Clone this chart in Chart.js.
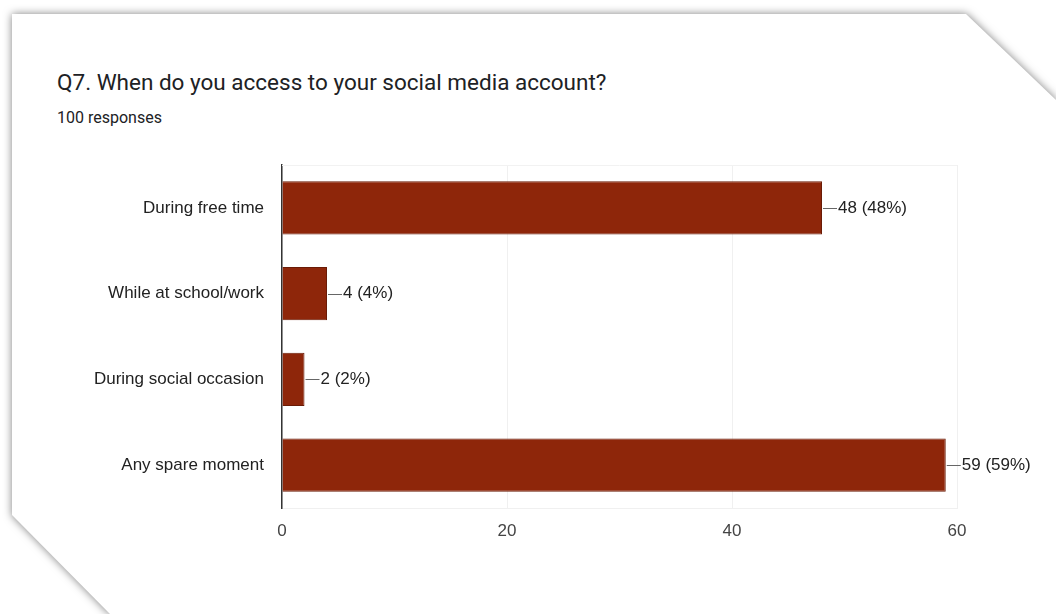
<!DOCTYPE html>
<html>
<head>
<meta charset="utf-8">
<script src="https://cdn.jsdelivr.net/npm/chart.js@4/dist/chart.umd.min.js"></script>
<style>
  html, body { margin:0; padding:0; background:#fff; width:1056px; height:614px; overflow:hidden; }
  #wrap { position:absolute; left:0; top:0; width:1056px; height:614px; filter: drop-shadow(0 0 4px rgba(0,0,0,0.5)); }
  #card { position:absolute; left:0; top:0; width:1056px; height:614px; background:#fff;
          clip-path: polygon(12px 14px, 966px 14px, 1056px 100px, 1056px 614px, 110px 614px, 12px 515px); }
  #title { position:absolute; left:57px; top:71px; line-height:1; font-family: Roboto, "Liberation Sans", sans-serif; font-size:22.5px; color:#202124; white-space:nowrap; }
  #sub { position:absolute; left:57px; top:110px; line-height:1; font-family: Roboto, "Liberation Sans", sans-serif; font-size:16px; color:#202124; white-space:nowrap; }
  #c { position:absolute; left:0; top:0; }
</style>
</head>
<body>
<div id="wrap"><div id="card"></div></div>
<div id="title">Q7. When do you access to your social media account?</div>
<div id="sub">100 responses</div>
<canvas id="c" width="1056" height="614"></canvas>
<script>
const categories = ["During free time", "While at school/work", "During social occasion", "Any spare moment"];
const counts = [48, 4, 2, 59];
const totalResponses = 100;
const xTicks = [0, 20, 40, 60];

const FONT = '"Liberation Sans", Arial, sans-serif';

const valueLabels = {
  id: 'valueLabels',
  afterDatasetsDraw(chart) {
    const ctx = chart.ctx;
    const meta = chart.getDatasetMeta(0);
    ctx.save();
    meta.data.forEach((el, i) => {
      const x = el.x, y = el.y;
      ctx.strokeStyle = '#666';
      ctx.lineWidth = 1;
      ctx.beginPath();
      ctx.moveTo(x + 1, Math.round(y) + 0.5);
      ctx.lineTo(x + 15, Math.round(y) + 0.5);
      ctx.stroke();
      ctx.fillStyle = '#222';
      ctx.font = '17px ' + FONT;
      ctx.textAlign = 'left';
      ctx.textBaseline = 'middle';
      const pct = Math.round(counts[i] / totalResponses * 100);
      ctx.fillText(counts[i] + ' (' + pct + '%)', x + 16, y);
    });
    ctx.restore();
  }
};

const topLine = {
  id: 'topLine',
  beforeDatasetsDraw(chart) {
    const { ctx, chartArea } = chart;
    ctx.save();
    ctx.strokeStyle = '#f2f2f2';
    ctx.lineWidth = 1;
    ctx.beginPath();
    ctx.moveTo(chartArea.left, chartArea.top + 0.5);
    ctx.lineTo(chartArea.right, chartArea.top + 0.5);
    ctx.stroke();
    ctx.restore();
  }
};

new Chart(document.getElementById('c'), {
  type: 'bar',
  data: {
    labels: categories,
    datasets: [{
      data: counts,
      backgroundColor: '#8E260A',
      borderColor: '#6A1B06',
      borderWidth: 1,
      categoryPercentage: 1.0,
      barPercentage: 0.62
    }]
  },
  options: {
    indexAxis: 'y',
    responsive: false,
    animation: false,
    devicePixelRatio: 1,
    layout: { padding: { left: 0, top: 165, right: 99, bottom: 66 } },
    plugins: { legend: { display: false }, tooltip: { enabled: false } },
    scales: {
      x: {
        min: 0, max: 60,
        afterBuildTicks(scale) { scale.ticks = xTicks.map(v => ({ value: v })); },
        afterFit(scale) { scale.height = 40; },
        grid: { color: '#f0f0f0', drawTicks: false },
        border: { display: true, color: '#f0f0f0' },
        ticks: { padding: 13, color: '#444', font: { family: FONT, size: 17 } }
      },
      y: {
        afterFit(scale) { scale.width = 282; },
        grid: { display: false, drawTicks: false },
        border: { display: true, color: '#333', width: 1.5 },
        ticks: { padding: 18, color: '#222', font: { family: FONT, size: 17 } }
      }
    }
  },
  plugins: [valueLabels, topLine]
});
</script>
</body>
</html>
